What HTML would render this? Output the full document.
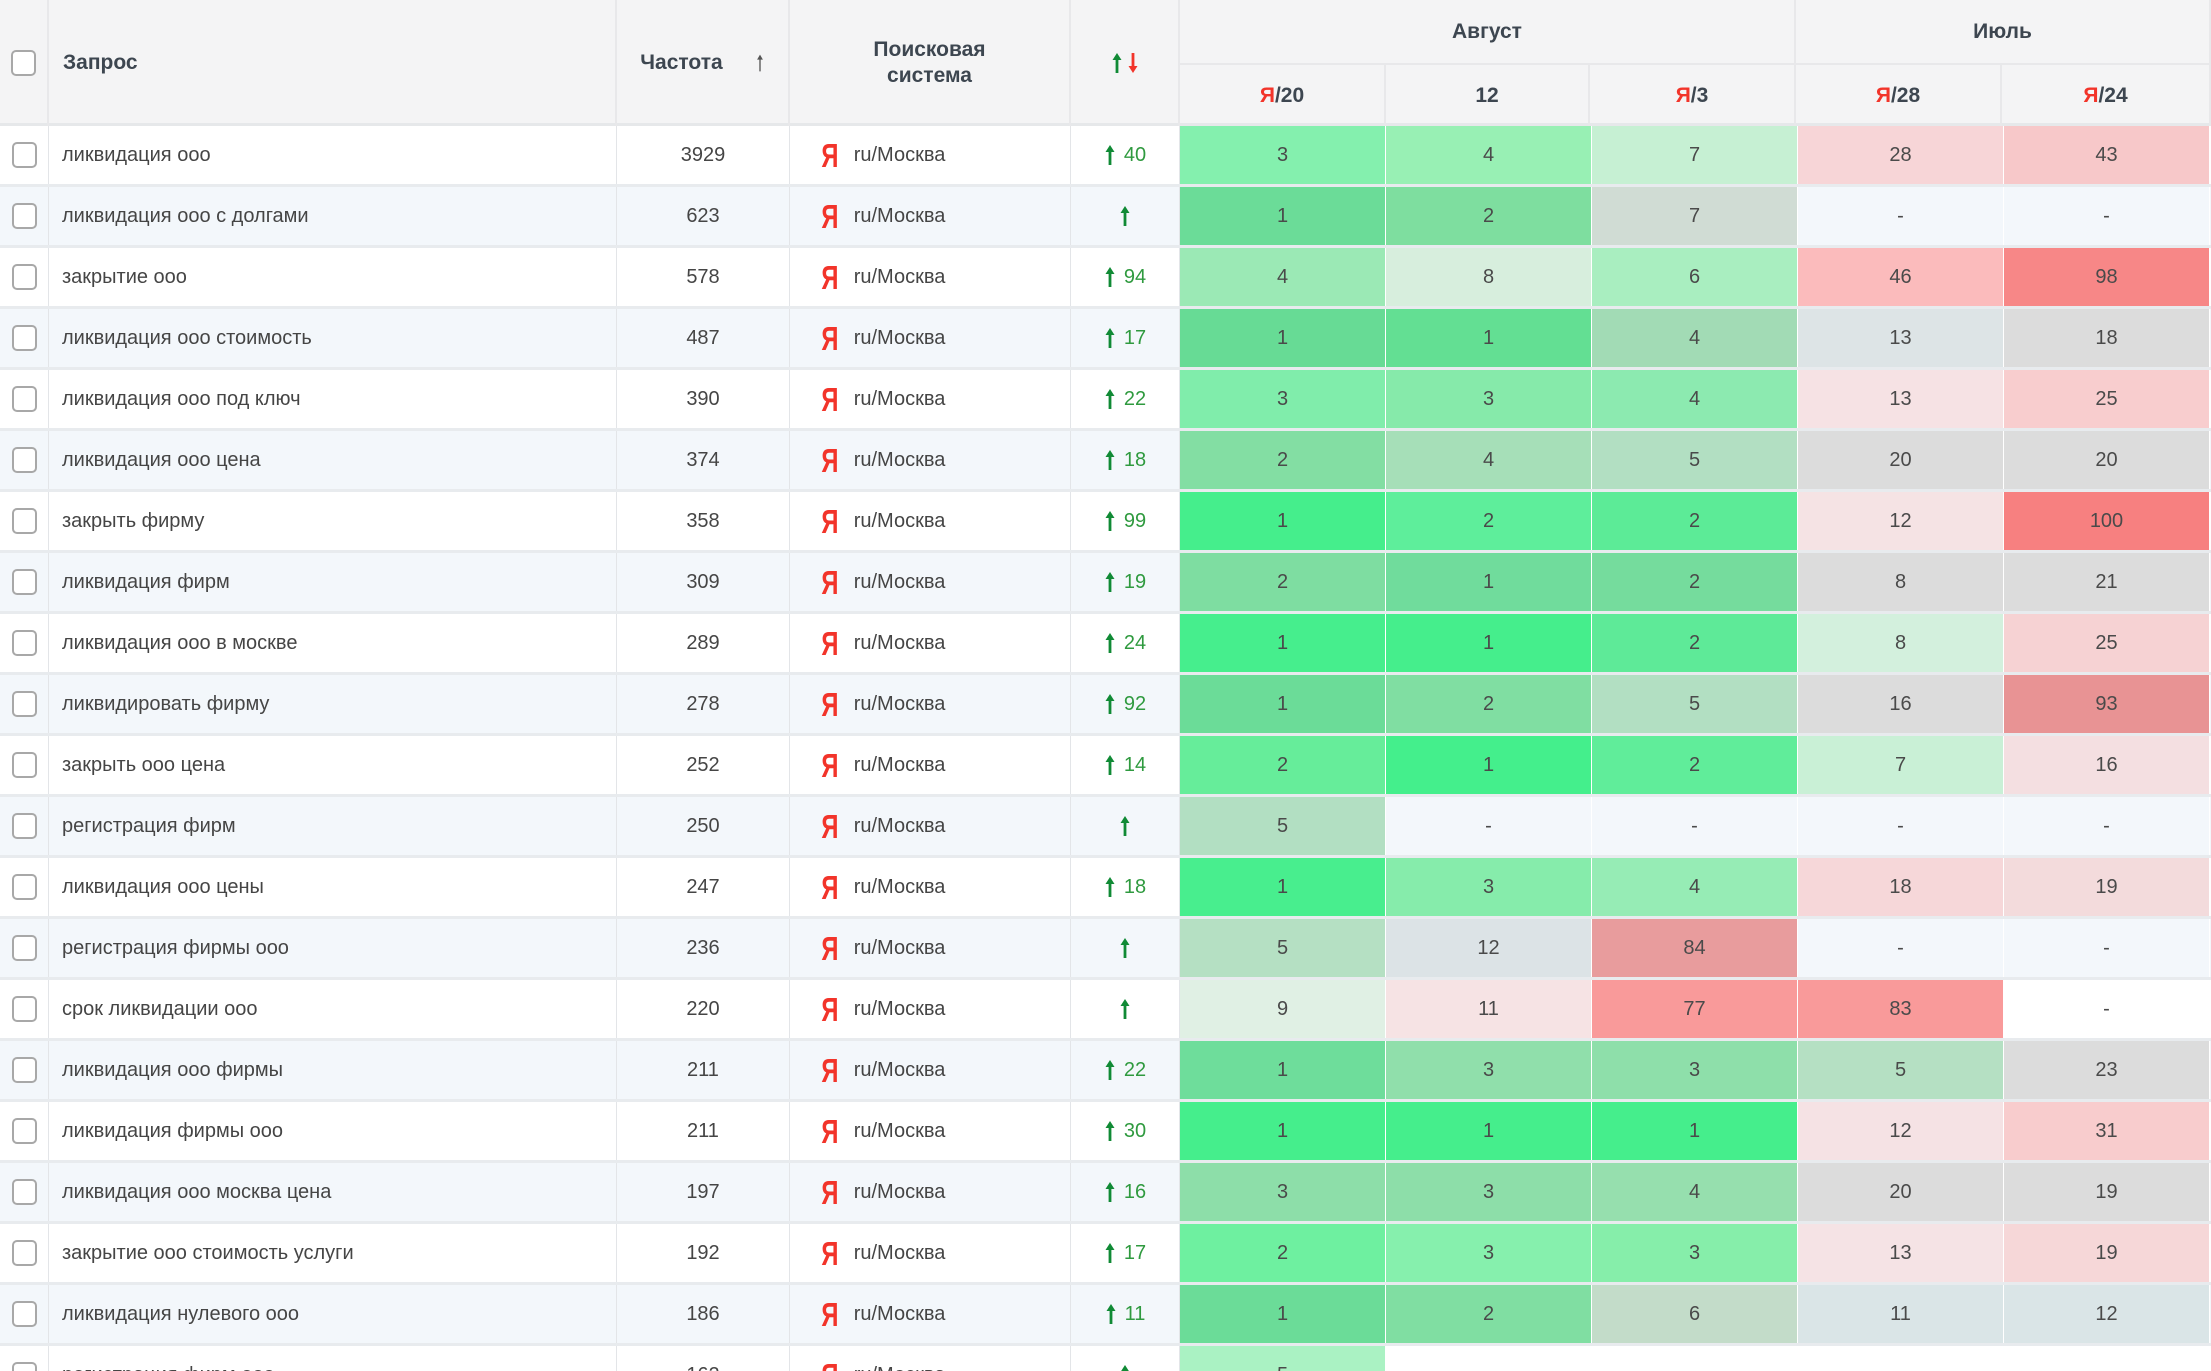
<!DOCTYPE html>
<html><head><meta charset="utf-8"><style>
*{box-sizing:border-box;margin:0;padding:0}
html,body{width:2211px;height:1371px;overflow:hidden}
body{position:relative;background:#fff;font-family:"Liberation Sans",sans-serif;color:#454545}
.r{display:flex;height:61px;border-bottom:3px solid #e8ebee}
.r>div{height:100%;display:flex;align-items:center;font-size:20px;border-right:1px solid #e3e5e8;white-space:nowrap;overflow:hidden}
.a{background:#fff}.b{background:#f3f7fb}
.c0{width:49px;justify-content:center}.c1{width:568px;padding-left:13px}.c2{width:173px;justify-content:center}
.c3{width:281px;padding-left:28px}.c4{width:109px;justify-content:center;color:#2f9a3f}
.d{width:206px;justify-content:center;border-right:1px solid #fff!important;color:#4a4a4a}
.cb{width:25px;height:26px;border:2px solid #a8a8a8;border-radius:5px;background:#fff}
.y{color:#f2342a;font-weight:bold;font-size:33px;margin-right:12px;display:inline-block;transform:scaleX(.72);line-height:1}
.ar{display:inline-block;width:12px;height:22px;margin-right:8px;background:none}
.ar svg{display:block}
.hd{position:absolute;left:0;top:0;width:2211px;height:126px;background:#f4f4f5;border-bottom:3px solid #e6e8ea}
.h{position:absolute;display:flex;align-items:center;justify-content:center;font-weight:bold;font-size:21px;color:#3d4650;border-right:2px solid #e8e8ea;text-align:center;line-height:26px}
.yy{color:#f2342a}
</style></head><body>
<svg width="0" height="0" style="position:absolute"><defs><symbol id="up" viewBox="0 0 12 22"><path d="M6 1 L1.5 8 H4.6 V21 H7.4 V8 H10.5 Z" fill="#108a35"/></symbol><symbol id="dn" viewBox="0 0 12 22"><path d="M6 21 L1.5 14 H4.6 V1 H7.4 V14 H10.5 Z" fill="#f2342a"/></symbol></defs></svg>
<div class="hd">
<div class="h" style="left:0;top:0;width:49px;height:126px"><div class="cb"></div></div>
<div class="h" style="left:49px;top:0;width:568px;height:126px;justify-content:flex-start;padding-left:14px">Запрос</div>
<div class="h" style="left:617px;top:0;width:173px;height:126px">Частота<svg width="10" height="20" viewBox="0 0 12 22" style="margin-left:32px"><path d="M6 1 L2.5 7 H5.2 V21 H6.8 V7 H9.5 Z" fill="#555"/></svg></div>
<div class="h" style="left:790px;top:0;width:281px;height:126px">Поисковая<br>система</div>
<div class="h" style="left:1071px;top:0;width:109px;height:126px"><svg width="12" height="22"><use href="#up"/></svg><svg width="12" height="22" style="margin-left:4px"><use href="#dn"/></svg></div>
<div class="h" style="left:1180px;top:0;width:616px;height:65px;border-bottom:2px solid #e8e8ea">Август</div>
<div class="h" style="left:1796px;top:0;width:415px;height:65px;border-bottom:2px solid #e8e8ea">Июль</div>
<div class="h" style="left:1180px;top:65px;width:206px;height:61px"><span class="yy">Я</span>/20</div>
<div class="h" style="left:1386px;top:65px;width:204px;height:61px">12</div>
<div class="h" style="left:1590px;top:65px;width:206px;height:61px"><span class="yy">Я</span>/3</div>
<div class="h" style="left:1796px;top:65px;width:206px;height:61px"><span class="yy">Я</span>/28</div>
<div class="h" style="left:2002px;top:65px;width:209px;height:61px"><span class="yy">Я</span>/24</div>
</div>
<div style="position:absolute;left:0;top:126px;width:2211px;height:1245px;overflow:hidden">
<div class="r a"><div class="c0"><div class="cb"></div></div><div class="c1">ликвидация ооо</div><div class="c2">3929</div><div class="c3"><span class="y">Я</span>ru/Москва</div><div class="c4"><svg class="ar"><use href="#up"/></svg>40</div><div class="d" style="background:#84f0ae">3</div><div class="d" style="background:#98f0b4">4</div><div class="d" style="background:#c6f0d3">7</div><div class="d" style="background:#f7d5d7">28</div><div class="d" style="background:#f7c8c9">43</div></div>
<div class="r b"><div class="c0"><div class="cb"></div></div><div class="c1">ликвидация ооо с долгами</div><div class="c2">623</div><div class="c3"><span class="y">Я</span>ru/Москва</div><div class="c4"><svg class="ar" style="margin:0"><use href="#up"/></svg></div><div class="d" style="background:#6bdc98">1</div><div class="d" style="background:#7ede9f">2</div><div class="d" style="background:#d0dcd4">7</div><div class="d" style="background:#f3f7fb">-</div><div class="d" style="background:#f3f7fb">-</div></div>
<div class="r a"><div class="c0"><div class="cb"></div></div><div class="c1">закрытие ооо</div><div class="c2">578</div><div class="c3"><span class="y">Я</span>ru/Москва</div><div class="c4"><svg class="ar"><use href="#up"/></svg>94</div><div class="d" style="background:#9be9b5">4</div><div class="d" style="background:#d7eedd">8</div><div class="d" style="background:#a9eec0">6</div><div class="d" style="background:#fbbbbc">46</div><div class="d" style="background:#f78787">98</div></div>
<div class="r b"><div class="c0"><div class="cb"></div></div><div class="c1">ликвидация ооо стоимость</div><div class="c2">487</div><div class="c3"><span class="y">Я</span>ru/Москва</div><div class="c4"><svg class="ar"><use href="#up"/></svg>17</div><div class="d" style="background:#67db95">1</div><div class="d" style="background:#63df93">1</div><div class="d" style="background:#a2dbb5">4</div><div class="d" style="background:#dde4e6">13</div><div class="d" style="background:#dcdcdc">18</div></div>
<div class="r a"><div class="c0"><div class="cb"></div></div><div class="c1">ликвидация ооо под ключ</div><div class="c2">390</div><div class="c3"><span class="y">Я</span>ru/Москва</div><div class="c4"><svg class="ar"><use href="#up"/></svg>22</div><div class="d" style="background:#80edab">3</div><div class="d" style="background:#86eaaa">3</div><div class="d" style="background:#8ceab0">4</div><div class="d" style="background:#f6e2e4">13</div><div class="d" style="background:#f8cdce">25</div></div>
<div class="r b"><div class="c0"><div class="cb"></div></div><div class="c1">ликвидация ооо цена</div><div class="c2">374</div><div class="c3"><span class="y">Я</span>ru/Москва</div><div class="c4"><svg class="ar"><use href="#up"/></svg>18</div><div class="d" style="background:#83dea3">2</div><div class="d" style="background:#a6dfb8">4</div><div class="d" style="background:#b2dfc2">5</div><div class="d" style="background:#dcdcdc">20</div><div class="d" style="background:#dcdcdc">20</div></div>
<div class="r a"><div class="c0"><div class="cb"></div></div><div class="c1">закрыть фирму</div><div class="c2">358</div><div class="c3"><span class="y">Я</span>ru/Москва</div><div class="c4"><svg class="ar"><use href="#up"/></svg>99</div><div class="d" style="background:#45ee8c">1</div><div class="d" style="background:#5eee9b">2</div><div class="d" style="background:#5ceb97">2</div><div class="d" style="background:#f5e3e4">12</div><div class="d" style="background:#f78080">100</div></div>
<div class="r b"><div class="c0"><div class="cb"></div></div><div class="c1">ликвидация фирм</div><div class="c2">309</div><div class="c3"><span class="y">Я</span>ru/Москва</div><div class="c4"><svg class="ar"><use href="#up"/></svg>19</div><div class="d" style="background:#7edda1">2</div><div class="d" style="background:#70dc9c">1</div><div class="d" style="background:#75dc9d">2</div><div class="d" style="background:#dcdcdc">8</div><div class="d" style="background:#dcdcdc">21</div></div>
<div class="r a"><div class="c0"><div class="cb"></div></div><div class="c1">ликвидация ооо в москве</div><div class="c2">289</div><div class="c3"><span class="y">Я</span>ru/Москва</div><div class="c4"><svg class="ar"><use href="#up"/></svg>24</div><div class="d" style="background:#46ee8d">1</div><div class="d" style="background:#45ee8c">1</div><div class="d" style="background:#5eea98">2</div><div class="d" style="background:#d3f0dd">8</div><div class="d" style="background:#f6d2d3">25</div></div>
<div class="r b"><div class="c0"><div class="cb"></div></div><div class="c1">ликвидировать фирму</div><div class="c2">278</div><div class="c3"><span class="y">Я</span>ru/Москва</div><div class="c4"><svg class="ar"><use href="#up"/></svg>92</div><div class="d" style="background:#6bdc98">1</div><div class="d" style="background:#80dea2">2</div><div class="d" style="background:#b2dfc2">5</div><div class="d" style="background:#dcdcdc">16</div><div class="d" style="background:#e89394">93</div></div>
<div class="r a"><div class="c0"><div class="cb"></div></div><div class="c1">закрыть ооо цена</div><div class="c2">252</div><div class="c3"><span class="y">Я</span>ru/Москва</div><div class="c4"><svg class="ar"><use href="#up"/></svg>14</div><div class="d" style="background:#66ed9a">2</div><div class="d" style="background:#44ef8c">1</div><div class="d" style="background:#60ed9a">2</div><div class="d" style="background:#c9f0d6">7</div><div class="d" style="background:#f4dfe1">16</div></div>
<div class="r b"><div class="c0"><div class="cb"></div></div><div class="c1">регистрация фирм</div><div class="c2">250</div><div class="c3"><span class="y">Я</span>ru/Москва</div><div class="c4"><svg class="ar" style="margin:0"><use href="#up"/></svg></div><div class="d" style="background:#b2dfc2">5</div><div class="d" style="background:#f3f7fb">-</div><div class="d" style="background:#f3f7fb">-</div><div class="d" style="background:#f3f7fb">-</div><div class="d" style="background:#f3f7fb">-</div></div>
<div class="r a"><div class="c0"><div class="cb"></div></div><div class="c1">ликвидация ооо цены</div><div class="c2">247</div><div class="c3"><span class="y">Я</span>ru/Москва</div><div class="c4"><svg class="ar"><use href="#up"/></svg>18</div><div class="d" style="background:#48ee8e">1</div><div class="d" style="background:#86ecab">3</div><div class="d" style="background:#96ecb5">4</div><div class="d" style="background:#f6d7d9">18</div><div class="d" style="background:#f3dbdc">19</div></div>
<div class="r b"><div class="c0"><div class="cb"></div></div><div class="c1">регистрация фирмы ооо</div><div class="c2">236</div><div class="c3"><span class="y">Я</span>ru/Москва</div><div class="c4"><svg class="ar" style="margin:0"><use href="#up"/></svg></div><div class="d" style="background:#b5e0c3">5</div><div class="d" style="background:#dce3e6">12</div><div class="d" style="background:#e89c9d">84</div><div class="d" style="background:#f3f7fb">-</div><div class="d" style="background:#f3f7fb">-</div></div>
<div class="r a"><div class="c0"><div class="cb"></div></div><div class="c1">срок ликвидации ооо</div><div class="c2">220</div><div class="c3"><span class="y">Я</span>ru/Москва</div><div class="c4"><svg class="ar" style="margin:0"><use href="#up"/></svg></div><div class="d" style="background:#e0f0e4">9</div><div class="d" style="background:#f6e3e4">11</div><div class="d" style="background:#f99a9a">77</div><div class="d" style="background:#f99a9a">83</div><div class="d" style="background:#fff">-</div></div>
<div class="r b"><div class="c0"><div class="cb"></div></div><div class="c1">ликвидация ооо фирмы</div><div class="c2">211</div><div class="c3"><span class="y">Я</span>ru/Москва</div><div class="c4"><svg class="ar"><use href="#up"/></svg>22</div><div class="d" style="background:#6edd9b">1</div><div class="d" style="background:#90dfab">3</div><div class="d" style="background:#8edfaa">3</div><div class="d" style="background:#b5e0c3">5</div><div class="d" style="background:#dcdcdc">23</div></div>
<div class="r a"><div class="c0"><div class="cb"></div></div><div class="c1">ликвидация фирмы ооо</div><div class="c2">211</div><div class="c3"><span class="y">Я</span>ru/Москва</div><div class="c4"><svg class="ar"><use href="#up"/></svg>30</div><div class="d" style="background:#45ee8c">1</div><div class="d" style="background:#45ee8c">1</div><div class="d" style="background:#45ee8c">1</div><div class="d" style="background:#f5e2e4">12</div><div class="d" style="background:#f8cccd">31</div></div>
<div class="r b"><div class="c0"><div class="cb"></div></div><div class="c1">ликвидация ооо москва цена</div><div class="c2">197</div><div class="c3"><span class="y">Я</span>ru/Москва</div><div class="c4"><svg class="ar"><use href="#up"/></svg>16</div><div class="d" style="background:#8ddea9">3</div><div class="d" style="background:#8ddea9">3</div><div class="d" style="background:#96dfae">4</div><div class="d" style="background:#dcdcdc">20</div><div class="d" style="background:#dcdcdc">19</div></div>
<div class="r a"><div class="c0"><div class="cb"></div></div><div class="c1">закрытие ооо стоимость услуги</div><div class="c2">192</div><div class="c3"><span class="y">Я</span>ru/Москва</div><div class="c4"><svg class="ar"><use href="#up"/></svg>17</div><div class="d" style="background:#6ef0a0">2</div><div class="d" style="background:#86f0ad">3</div><div class="d" style="background:#86eeaa">3</div><div class="d" style="background:#f5e3e5">13</div><div class="d" style="background:#f6d7d8">19</div></div>
<div class="r b"><div class="c0"><div class="cb"></div></div><div class="c1">ликвидация нулевого ооо</div><div class="c2">186</div><div class="c3"><span class="y">Я</span>ru/Москва</div><div class="c4"><svg class="ar"><use href="#up"/></svg>11</div><div class="d" style="background:#6bdc98">1</div><div class="d" style="background:#80dea2">2</div><div class="d" style="background:#c3dcc9">6</div><div class="d" style="background:#dae5e7">11</div><div class="d" style="background:#dae5e7">12</div></div>
<div class="r a"><div class="c0"><div class="cb"></div></div><div class="c1">регистрация фирм ооо</div><div class="c2">162</div><div class="c3"><span class="y">Я</span>ru/Москва</div><div class="c4"><svg class="ar" style="margin:0"><use href="#up"/></svg></div><div class="d" style="background:#aaf2c3">5</div><div class="d"></div><div class="d"></div><div class="d"></div><div class="d"></div></div>
</div>
</body></html>
